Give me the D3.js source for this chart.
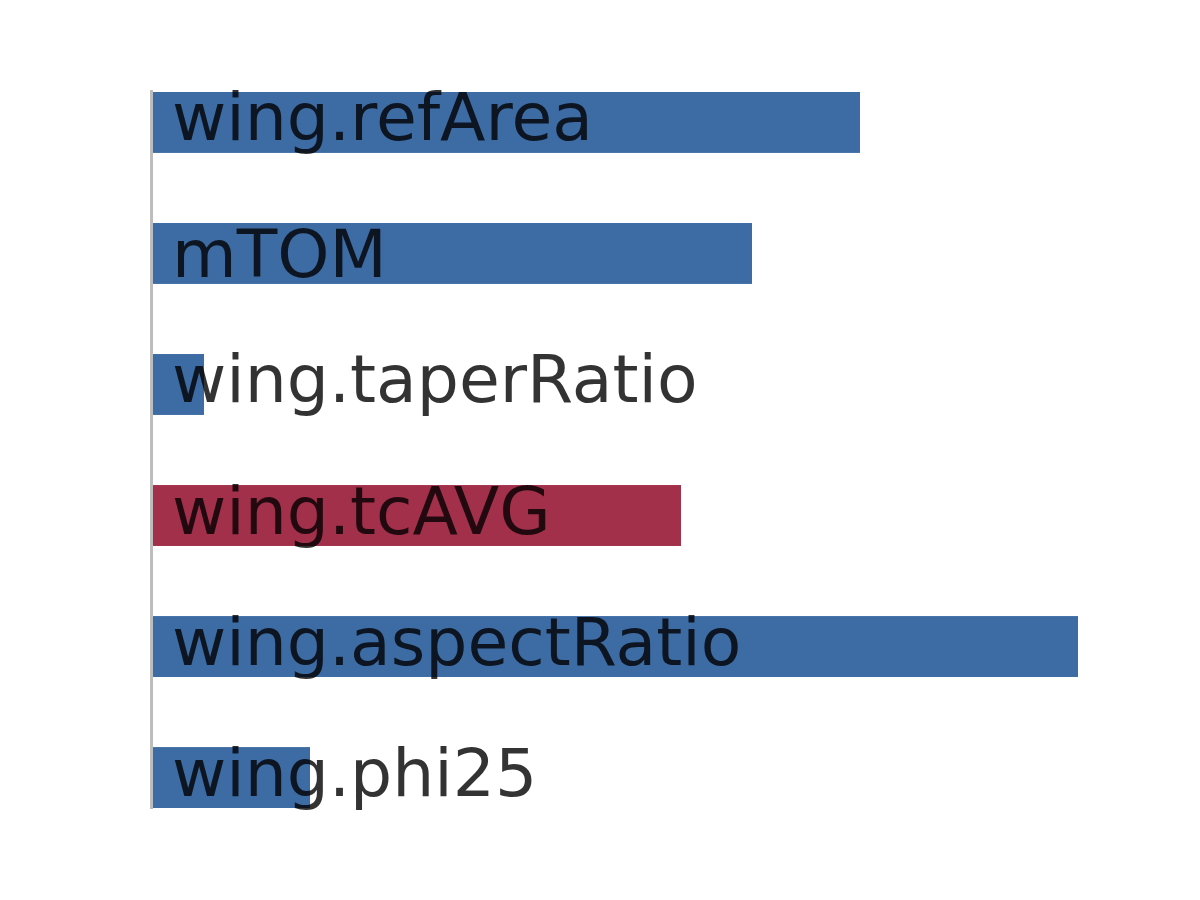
<!DOCTYPE html>
<html>
<head>
<meta charset="utf-8">
<script src="https://cdn.jsdelivr.net/npm/d3@7"></script>
<style>
  html, body { margin: 0; padding: 0; background: #fff; }
  svg { display: block; }
</style>
</head>
<body>
<svg id="chart" width="1200" height="900"></svg>
<script>
const categories = ["wing.refArea", "mTOM", "wing.taperRatio", "wing.tcAVG", "wing.aspectRatio", "wing.phi25"];
const values = [7.08, 6.00, 0.52, 5.29, 9.26, 1.58];
const signs = ["pos", "pos", "pos", "neg", "pos", "pos"];

const svg = d3.select("#chart");
const x = d3.scaleLinear().domain([0, 10]).range([152, 1152]);
const y = d3.scaleBand().domain(categories).range([92, 808]).paddingInner(0.535).paddingOuter(0);
const color = d3.scaleOrdinal().domain(["pos", "neg"]).range(["#3d6ca4", "#a3304a"]);

const data = categories.map((c, i) => ({ c, v: values[i], s: signs[i] }));

const fontSize = 66.4;
const fontFamily = "DejaVu Sans";
const ctx = document.createElement("canvas").getContext("2d");
ctx.font = fontSize + "px '" + fontFamily + "'";
function baselineOffset(t) {
  const m = ctx.measureText(t);
  if (m.actualBoundingBoxAscent !== undefined) {
    return (m.actualBoundingBoxAscent - m.actualBoundingBoxDescent) / 2;
  }
  return 18;
}

svg.selectAll("rect.bar").data(data).enter().append("rect")
  .attr("class", "bar")
  .attr("x", x(0))
  .attr("y", d => y(d.c))
  .attr("width", d => x(d.v) - x(0))
  .attr("height", y.bandwidth())
  .attr("fill", d => color(d.s));

svg.append("line")
  .attr("x1", x(0) - 0.5).attr("x2", x(0) - 0.5)
  .attr("y1", 90).attr("y2", 809)
  .attr("stroke", "#bdbdbd").attr("stroke-width", 3);

svg.selectAll("text.lbl").data(data).enter().append("text")
  .attr("class", "lbl")
  .attr("x", x(0) + 20)
  .attr("y", d => y(d.c) + y.bandwidth() / 2 + baselineOffset(d.c))
  .attr("font-family", fontFamily)
  .attr("font-size", fontSize)
  .attr("fill", "#000")
  .attr("fill-opacity", 0.8)
  .text(d => d.c);
</script>
</body>
</html>
